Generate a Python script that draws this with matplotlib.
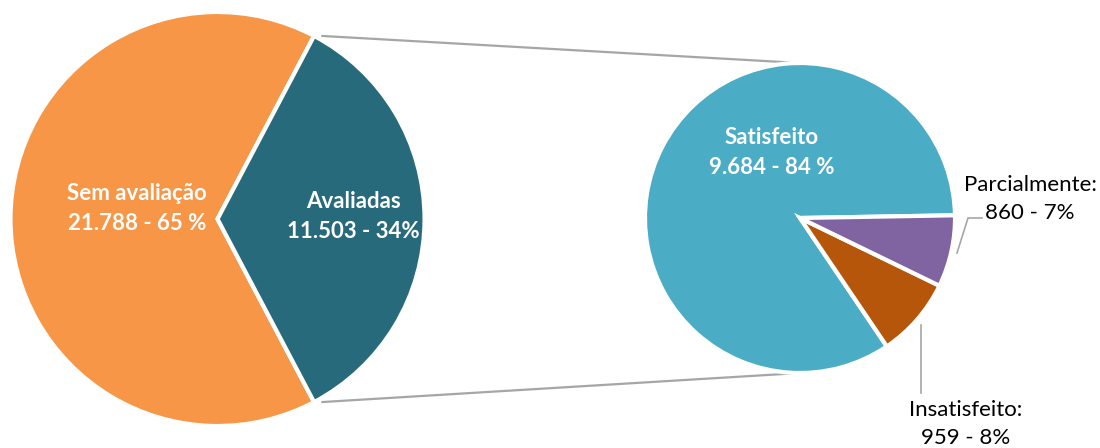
import numpy as np
import matplotlib
matplotlib.use("Agg")
import matplotlib.pyplot as plt

# ── Data ──────────────────────────────────────────────────────────────────
main_labels = ["Sem avaliação", "Avaliadas"]
main_values = [21788, 11503]
main_texts = ["Sem avaliação\n21.788 - 65 %", "Avaliadas\n11.503 - 34%"]

sub_labels = ["Satisfeito", "Insatisfeito", "Parcialmente"]
sub_values = [9684, 959, 860]
sub_texts = ["Satisfeito\n9.684 - 84 %", "Insatisfeito:\n959 - 8%", "Parcialmente:\n860 - 7%"]

main_colors = ["#F79646", "#276A7C"]
sub_colors = ["#4BACC6", "#B5560A", "#8064A2"]

plt.rcParams["font.family"] = ["Lato", "DejaVu Sans"]

fig = plt.figure(figsize=(11, 4.48), dpi=100)
ax = fig.add_axes([0, 0, 1, 1])

# ── Left pie ──────────────────────────────────────────────────────────────
c1, r1 = (217.5, 229.0), 207.0
teal_frac = main_values[1] / sum(main_values)
half = 180 * teal_frac
expl1 = [0, 0.035]
ax.pie(main_values, colors=main_colors, startangle=half, counterclock=True,
       center=c1, radius=r1, explode=expl1,
       wedgeprops=dict(edgecolor="white", linewidth=3), frame=True)

# ── Right pie ─────────────────────────────────────────────────────────────
c2, r2 = (800.0, 230.0), 155.0
ax.pie(sub_values, colors=sub_colors, startangle=1, counterclock=True,
       center=c2, radius=r2, explode=[0, 0.06, 0.04],
       wedgeprops=dict(edgecolor="white", linewidth=3), frame=True)
ax.set_xlim(0, 1100)
ax.set_ylim(0, 448)
ax.set_aspect("equal")
ax.axis("off")

# ── Connector lines ───────────────────────────────────────────────────────
off = expl1[1] * r1
for sgn in (1, -1):
    th = np.radians(sgn * half)
    x0 = c1[0] + off + r1 * np.cos(th)
    y0 = c1[1] + r1 * np.sin(th)
    ax.plot([x0, c2[0]], [y0, c2[1] + sgn * r2], color="#A6A6A6", lw=1.6,
            solid_capstyle="butt", zorder=0)

# ── Labels ────────────────────────────────────────────────────────────────
bold = dict(color="white", fontsize=16, fontweight="bold", ha="center",
            va="center", linespacing=1.5)
ax.text(137, 239.5, main_texts[0], **bold)
ax.text(353, 231.5, main_texts[1], **bold)
ax.text(772, 295.5, sub_texts[0], **bold)

plain = dict(color="black", fontsize=16, ha="center", va="center",
             linespacing=1.5)
ax.text(1030, 249, sub_texts[2], **plain)
ax.text(966, 24, sub_texts[1], **plain)

# leader lines
ax.plot([957, 968, 982], [195, 230, 230], color="#A6A6A6", lw=1.2)
ax.plot([921, 921], [123, 55], color="#A6A6A6", lw=1.2)

fig.savefig("out.png", dpi=100)
